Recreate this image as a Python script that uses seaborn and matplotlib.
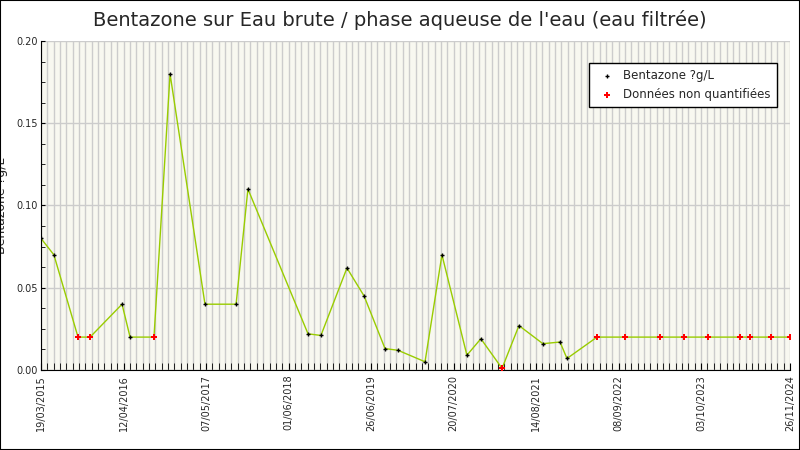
import matplotlib
matplotlib.use("Agg")
import matplotlib.pyplot as plt
import seaborn as sns
import pandas as pd
import numpy as np

dates = ["19/03/2015","19/05/2015","10/09/2015","06/11/2015","05/04/2016","13/05/2016",
         "03/09/2016","18/11/2016","02/05/2017","26/09/2017","21/11/2017","01/09/2018",
         "01/11/2018","04/03/2019","24/05/2019","31/08/2019","31/10/2019","07/03/2020",
         "26/05/2020","21/09/2020","26/11/2020","06/03/2021","25/05/2021","15/09/2021",
         "05/12/2021","07/01/2022","29/05/2022","08/10/2022","22/03/2023","14/07/2023",
         "04/11/2023","04/04/2024","21/05/2024","28/08/2024","26/11/2024"]
values = [0.08,0.07,0.02,0.02,0.04,0.02,0.02,0.18,0.04,0.04,0.11,0.022,0.021,0.062,
          0.045,0.013,0.012,0.005,0.07,0.009,0.019,0.001,0.027,0.016,0.017,0.007,
          0.02,0.02,0.02,0.02,0.02,0.02,0.02,0.02,0.02]
nonquant = [0,0,1,1,0,0,1,0,0,0,0,0,0,0,0,0,0,0,0,0,0,1,0,0,0,0,1,1,1,1,1,1,1,1,1]
tick_labels = ["19/03/2015","12/04/2016","07/05/2017","01/06/2018","26/06/2019",
               "20/07/2020","14/08/2021","08/09/2022","03/10/2023","26/11/2024"]

df = pd.DataFrame({"date": pd.to_datetime(dates, dayfirst=True), "val": values,
                   "nq": np.array(nonquant, bool)})

sns.set_style("white")
fig = plt.figure(figsize=(8, 4.5), dpi=100)
fig.patches.append(plt.Rectangle((0, 0), 1, 1, transform=fig.transFigure,
                                 fill=False, edgecolor="black", lw=1.5))
ax = fig.add_axes([41/800, 80/450, 749/800, 329/450])
ax.set_facecolor("#f8f8f0")

sns.lineplot(data=df, x="date", y="val", ax=ax, color="#99cc00", lw=1, zorder=2)
q = df[~df.nq]
n = df[df.nq]
sns.scatterplot(data=q, x="date", y="val", ax=ax, marker="+", color="black", s=12,
                linewidth=1, zorder=3, label="Bentazone ?g/L")
sns.scatterplot(data=n, x="date", y="val", ax=ax, marker="P", color="red", s=25,
                edgecolor="red", linewidth=0, zorder=3, label="Données non quantifiées")

start = pd.to_datetime("19/03/2015", dayfirst=True)
end = pd.to_datetime("26/11/2024", dayfirst=True)
ax.set_xlim(start, end)
ax.set_ylim(0, 0.2)
tk = pd.to_datetime(tick_labels, dayfirst=True)
ax.set_xticks(tk)
ax.set_xticklabels(tick_labels, rotation=90, fontsize=7)
minor = pd.date_range(start, end, freq="30D")
ax.set_xticks(minor, minor=True)
ax.set_yticks([0, 0.05, 0.1, 0.15, 0.2])
ax.set_yticklabels(["0.00", "0.05", "0.10", "0.15", "0.20"], fontsize=7)
ax.set_yticks(np.arange(0, 0.2, 0.0125), minor=True)
ax.grid(True, which="major", axis="y", color="#cccccc", lw=1)
ax.grid(True, which="minor", axis="x", color="#cccccc", lw=1)
ax.grid(True, which="major", axis="x", color="#cccccc", lw=1)
ax.tick_params(axis="x", which="both", direction="in", length=5, color="black", bottom=True)
ax.tick_params(axis="y", which="both", direction="in", length=3, left=True, color="black",
               pad=2)
for s in ["top", "right"]:
    ax.spines[s].set_visible(False)
ax.spines["left"].set_color("black")
ax.spines["bottom"].set_color("black")
ax.set_xlabel("")
ax.set_ylabel("Bentazone ?g/L", fontsize=9)
ax.yaxis.set_label_coords(-33/749, 0.5)
fig.text(0.5, 0.955, "Bentazone sur Eau brute / phase aqueuse de l'eau (eau filtrée)",
         ha="center", va="center", fontsize=14)
leg = ax.legend(loc="upper right", bbox_to_anchor=(0.99, 0.95), fontsize=8.5,
                frameon=True, fancybox=False, edgecolor="black", framealpha=1,
                handletextpad=0.4, borderpad=0.5)
leg.get_frame().set_linewidth(1)
fig.savefig("out.png", dpi=100)
